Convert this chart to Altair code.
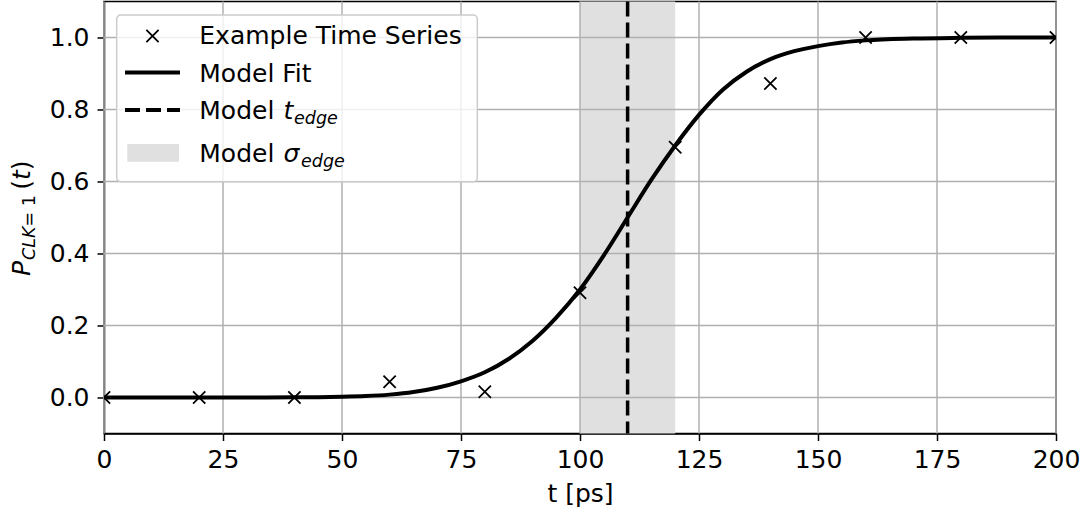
import altair as alt
import pandas as pd

# ---- data ----
sample_t = [0, 20, 40, 60, 80, 100, 120, 140, 160, 180, 200]
sample_p = [0.0, 0.0, 0.0, 0.044, 0.016, 0.291, 0.695, 0.872, 1.0, 1.0, 1.0]

fit_t = [0, 10, 20, 30, 40, 45, 50, 55, 60, 65, 70, 75, 80, 85, 90, 95, 100,
         105, 110, 115, 120, 125, 130, 135, 140, 145, 150, 155, 160, 170, 180, 190, 200]
fit_p = [0.0, 0.0, 0.0, 0.0, 0.0005, 0.001, 0.002, 0.004, 0.008, 0.015, 0.027, 0.045,
         0.07, 0.107, 0.157, 0.222, 0.30, 0.395, 0.50, 0.605, 0.70, 0.785, 0.855, 0.905,
         0.94, 0.962, 0.976, 0.986, 0.992, 0.997, 0.999, 1.0, 1.0]

t_edge = [110]
sigma_lo = [100]
sigma_hi = [120]

x_ticks = [0, 25, 50, 75, 100, 125, 150, 175, 200]
y_ticks = [0.0, 0.2, 0.4, 0.6, 0.8, 1.0]

legend_labels = ["Example Time Series", "Model Fit", "Model ", "Model "]

FONT = "DejaVu Sans"
W, H = 952, 432
X_DOM = [0, 200]
Y_DOM = [-0.1, 1.1]
CROSS = "M-1,-1L1,1M1,-1L-1,1"

xs = alt.Scale(domain=X_DOM, nice=False, zero=False)
ys = alt.Scale(domain=Y_DOM, nice=False, zero=False)

x_axis = alt.Axis(values=x_ticks, grid=False, title="t [ps]", titleBaseline="alphabetic",
                  titleY=68, labelPadding=7)
y_axis = alt.Axis(values=y_ticks, grid=False, title="", format=".1f", labelPadding=8)

samples = pd.DataFrame({"t": sample_t, "p": sample_p})
fit = pd.DataFrame({"t": fit_t, "p": fit_p})
band = pd.DataFrame({"lo": sigma_lo, "hi": sigma_hi})
edge = pd.DataFrame({"t": t_edge})
xgrid = pd.DataFrame({"t": x_ticks})
ygrid = pd.DataFrame({"p": y_ticks})
one = pd.DataFrame({"k": [0]})

band_layer = alt.Chart(band).mark_rect(color="#e0e0e0").encode(
    x=alt.X("lo:Q", scale=xs, axis=x_axis), x2="hi:Q",
    y=alt.value(0), y2=alt.value(H))
xg = alt.Chart(xgrid).mark_rule(color="#b0b0b0", strokeWidth=1.5).encode(
    x=alt.X("t:Q", scale=xs, axis=x_axis))
yg = alt.Chart(ygrid).mark_rule(color="#b0b0b0", strokeWidth=1.5).encode(
    y=alt.Y("p:Q", scale=ys, axis=y_axis))
fit_layer = alt.Chart(fit).mark_line(color="black", strokeWidth=4, interpolate="monotone",
                                     clip=True).encode(
    x=alt.X("t:Q", scale=xs, axis=x_axis), y=alt.Y("p:Q", scale=ys, axis=y_axis))
edge_layer = alt.Chart(edge).mark_rule(color="black", strokeWidth=3.5, strokeDash=[15, 6]).encode(
    x=alt.X("t:Q", scale=xs, axis=x_axis))
pts = alt.Chart(samples).mark_point(shape=CROSS, size=150, filled=False, color="black",
                                    strokeWidth=1.8, opacity=1, clip=True).encode(
    x=alt.X("t:Q", scale=xs, axis=x_axis), y=alt.Y("p:Q", scale=ys, axis=y_axis))


def txt(s, x, y, size=25, italic=False, angle=0):
    kw = dict(font=FONT, fontSize=size, color="black", align="left", baseline="alphabetic",
              fontStyle="italic" if italic else "normal")
    if angle:
        kw["angle"] = angle
    return alt.Chart(one).mark_text(**kw).encode(
        x=alt.value(x), y=alt.value(y), text=alt.value(s))


# legend box
leg_box = alt.Chart(one).mark_rect(fill="white", fillOpacity=0.8, stroke="#cccccc",
                                   strokeWidth=1.5, cornerRadius=4).encode(
    x=alt.value(12.7), x2=alt.value(373.3), y=alt.value(13.5), y2=alt.value(180.2))
leg_cross = alt.Chart(one).mark_point(shape=CROSS, size=150, filled=False, color="black",
                                      strokeWidth=1.8, opacity=1).encode(
    x=alt.value(48.5), y=alt.value(34.5))
leg_line = alt.Chart(one).mark_rule(color="black", strokeWidth=4).encode(
    x=alt.value(21), x2=alt.value(76), y=alt.value(71))
leg_dash = alt.Chart(one).mark_rule(color="black", strokeWidth=4, strokeDash=[15, 6]).encode(
    x=alt.value(21), x2=alt.value(76), y=alt.value(108.5))
leg_patch = alt.Chart(one).mark_rect(color="#e0e0e0").encode(
    x=alt.value(23.3), x2=alt.value(75), y=alt.value(142.5), y2=alt.value(160.2))

leg_texts = [
    txt(legend_labels[0], 95.3, 42.8),
    txt(legend_labels[1], 95.3, 80.2),
    txt(legend_labels[2], 95.3, 117.8),
    txt("t", 179.5, 117.8, italic=True),
    txt("edge", 190, 122.8, size=17.5, italic=True),
    txt(legend_labels[3], 95.3, 160.8),
    txt("σ", 179.5, 160.8, italic=True),
    txt("edge", 197, 165.8, size=17.5, italic=True),
]

# y-axis label  P_{CLK=1}(t)
ylab = [
    txt("P", -74, 274.5, italic=True, angle=270),
    txt("CLK", -69, 258.5, size=17.5, italic=True, angle=270),
    txt(" = 1", -69, 225.1, size=17.5, angle=270),
    txt("(", -74, 188.2, angle=270),
    txt("t", -74, 178.5, italic=True, angle=270),
    txt(")", -74, 168.7, angle=270),
]

chart = alt.layer(band_layer, xg, yg, fit_layer, edge_layer, pts,
                  leg_box, leg_cross, leg_line, leg_dash, leg_patch,
                  *leg_texts, *ylab).properties(
    width=W, height=H,
    autosize=alt.AutoSizeParams(type="none"),
    padding={"left": 104, "top": 1.5, "right": 30, "bottom": 78.5},
    background="white",
).configure_view(stroke="black", strokeWidth=1.5).configure_axis(
    labelFont=FONT, labelFontSize=25, labelColor="black",
    titleFont=FONT, titleFontSize=25, titleFontWeight="normal", titleColor="black",
    tickSize=7, tickWidth=1.5, tickColor="black",
    domainColor="black", domainWidth=1.5, labelFlush=False, labelOverlap=False,
)

chart.save("out.html", embed_options={"renderer": "svg", "actions": False})
